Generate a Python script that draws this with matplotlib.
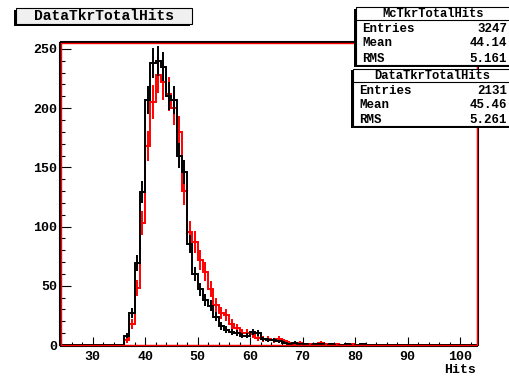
import numpy as np
import matplotlib

matplotlib.use("Agg")
import matplotlib.pyplot as plt
from matplotlib.patches import Rectangle
from matplotlib.lines import Line2D
from matplotlib.ticker import MultipleLocator

W, H = 510, 377  # canvas in pixels

plt.rcParams["font.family"] = ["Liberation Mono", "DejaVu Sans Mono"]
plt.rcParams["font.weight"] = "bold"

# one hit per bin, axis spans 24 .. 103.2
BIN_LO, BIN_HI = 24, 104
FIRST_FILLED = 36  # first bin listed in the count arrays below

# data (red, drawn first) -- raw counts per bin starting at FIRST_FILLED
data_counts = [4, 18, 48, 103, 168, 205, 228, 222, 212, 200,
               180, 130, 95, 87, 72, 62, 47, 34, 27, 25,
               18, 14, 10, 10, 9, 6, 5, 5, 4, 5,
               3, 2, 1, 2, 1, 1, 0, 2, 1, 0, 1, 0, 0, 1]
# MC (black), normalised to the data entries
mc_counts = [8, 27, 69, 129, 207, 238, 240, 235, 210, 207,
             160, 146, 85, 60, 47, 38, 33, 24, 16, 13,
             11, 10, 8, 8, 11, 10, 5, 4, 4, 3,
             2, 1, 2, 1, 1, 0, 1, 1, 0, 1, 0, 0, 1, 0, 0, 1]

mc_name, mc_entries, mc_mean, mc_rms = "McTkrTotalHits", 3247, "44.14", "5.161"
data_name, data_entries, data_mean, data_rms = "DataTkrTotalHits", 2131, "45.46", "5.261"
mc_scale = data_entries / mc_entries


def fx(px):
    return px / W


def fy(py):
    return 1 - py / H


def full_hist(counts):
    vals = np.zeros(BIN_HI - BIN_LO)
    start = FIRST_FILLED - BIN_LO
    vals[start:start + len(counts)] = counts
    return vals


edges = np.arange(BIN_LO, BIN_HI + 1)
centers = edges[:-1] + 0.5

fig = plt.figure(figsize=(W / 100, H / 100), dpi=100)
fig.patch.set_facecolor("white")
ax = fig.add_axes([fx(61), fy(345), fx(477) - fx(61), fy(43) - fy(345)])

for counts, color, scale in ((data_counts, "#ff0000", 1.0), (mc_counts, "black", mc_scale)):
    vals = full_hist(counts)
    err = np.sqrt(vals * scale)
    ax.stairs(vals, edges, color=color, linewidth=1.4)
    nz = vals > 0
    ax.vlines(centers[nz], (vals - err)[nz], (vals + err)[nz], color=color, linewidth=1.4)

ax.set_xlim(24, 103.2)
ax.set_ylim(0, 255)
ax.xaxis.set_major_locator(MultipleLocator(10))
ax.xaxis.set_minor_locator(MultipleLocator(2))
ax.yaxis.set_major_locator(MultipleLocator(50))
ax.yaxis.set_minor_locator(MultipleLocator(10))
ax.tick_params(which="both", direction="in", top=False, right=False, width=0.8, labelsize=9.5)
ax.tick_params(axis="x", which="major", length=6.5, pad=3.5)
ax.tick_params(axis="x", which="minor", length=3.1)
ax.tick_params(axis="y", which="major", length=7.9, pad=2)
ax.tick_params(axis="y", which="minor", length=3.8)

# frame: black outside, red just inside
for side in ax.spines.values():
    side.set_linewidth(1.5)
    side.set_color("black")
    side.set_position(("outward", 1))
ax.add_patch(Rectangle((0, 0), 1, 1, transform=ax.transAxes, fill=False,
                       edgecolor="#ff0000", linewidth=1.0, clip_on=False, zorder=5))

fig.text(fx(476), fy(370), "Hits", ha="right", va="center", fontsize=9.5)


def box(x0, y0, x1, y1, face):
    fig.add_artist(Rectangle((fx(x0 - 2), fy(y1 + 2)), fx(x1) - fx(x0), fy(y0) - fy(y1),
                             transform=fig.transFigure, facecolor="black", edgecolor="none"))
    fig.add_artist(Rectangle((fx(x0), fy(y1)), fx(x1) - fx(x0), fy(y0) - fy(y1),
                             transform=fig.transFigure, facecolor=face, edgecolor="black",
                             linewidth=0.8))


# title box
box(16, 8, 192, 23.5, "#f0f0f0")
fig.text(fx(104), fy(16), data_name, ha="center", va="center", fontsize=10.5)


def stat_box(x0, top, sep, bottom, name, entries, mean, rms, baselines):
    box(x0, top, 511, bottom, "white")
    fig.add_artist(Line2D([fx(x0), fx(511)], [fy(sep), fy(sep)], transform=fig.transFigure,
                          color="black", linewidth=0.8))
    fig.text(fx((x0 + 511) / 2), fy(baselines[0]), name, ha="center", va="baseline", fontsize=8.7)
    rows = (("Entries", str(entries)), ("Mean", mean), ("RMS", rms))
    for (label, value), y in zip(rows, baselines[1:]):
        fig.text(fx(x0 + 6), fy(y), label, ha="left", va="baseline", fontsize=9)
        fig.text(fx(507), fy(y), value, ha="right", va="baseline", fontsize=9)


stat_box(356, 7.5, 19.5, 65, mc_name, mc_entries, mc_mean, mc_rms, (17.3, 31.7, 45.7, 61.5))
stat_box(353.5, 68.5, 82, 126, data_name, data_entries, data_mean, data_rms, (79, 94.5, 108.3, 123))

fig.savefig("out.png", dpi=100, facecolor="white")
